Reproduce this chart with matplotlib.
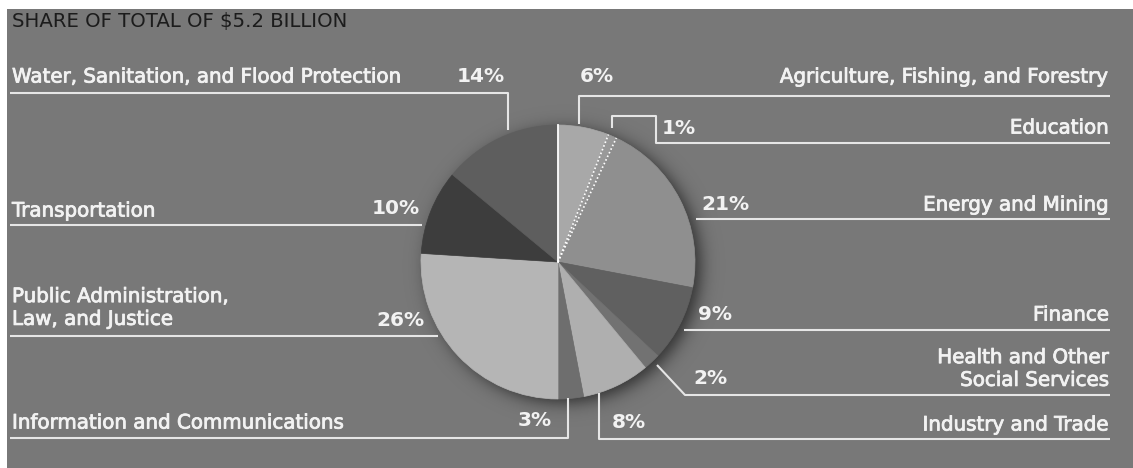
import numpy as np
import matplotlib
matplotlib.use('Agg')
import matplotlib.pyplot as plt
from matplotlib.patches import Rectangle
import matplotlib.patheffects as pe

plt.rcParams['font.family'] = ['DejaVu Sans']

title = 'SHARE OF TOTAL OF $5.2 BILLION'

# sectors clockwise from 12 o'clock
sectors = [
    'Agriculture, Fishing, and Forestry',
    'Education',
    'Energy and Mining',
    'Finance',
    'Health and Other\nSocial Services',
    'Industry and Trade',
    'Information and Communications',
    'Public Administration,\nLaw, and Justice',
    'Transportation',
    'Water, Sanitation, and Flood Protection',
]
shares = [6, 1, 21, 9, 2, 8, 3, 26, 10, 14]
greys = ['#a8a8a8', '#999999', '#8f8f8f', '#606060', '#727272',
         '#afafaf', '#6e6e6e', '#b5b5b5', '#3d3d3d', '#5e5e5e']

W, H = 1133, 468
cx, cy, rad = 558, 262, 137
bg = '#787878'
ink = '#f2f2f2'
rule = '#e6e6e6'

fig = plt.figure(figsize=(W / 100, H / 100), dpi=100, facecolor='white')
ax = fig.add_axes([0, 0, 1, 1])

ax.add_patch(Rectangle((7, 9), W - 7, H - 9, facecolor=bg, edgecolor='none', zorder=0))

# soft shadow behind the pie, heavier toward the lower right
xs = np.arange(cx - 170, cx + 180)
ys = np.arange(cy - 170, cy + 180)
X, Y = np.meshgrid(xs, ys)
d = np.hypot(X - (cx + 6), Y - (cy + 4))
shade = np.zeros(X.shape + (4,))
shade[..., 3] = 0.6 / (1.0 + np.exp((d - rad) / 5.0))
ax.imshow(shade, extent=(xs[0], xs[-1], ys[-1], ys[0]), origin='upper',
          interpolation='bilinear', zorder=1)

# y axis points down, so start at 270 and go counterclockwise in data terms
wedges, _ = ax.pie(shares, colors=greys, startangle=270, counterclock=True,
                   center=(cx, cy), radius=rad, frame=True)
for w in wedges:
    w.set_edgecolor(w.get_facecolor())
    w.set_linewidth(0.5)
    w.set_zorder(2)

cum = np.cumsum([0] + shares)
def rim(pct):
    a = np.deg2rad(270 + pct * 3.6)
    return cx + rad * np.cos(a), cy + rad * np.sin(a)

x0, y0 = rim(0)
ax.plot([cx, x0], [cy, y0], color='white', lw=1.3, zorder=3)
for k in (1, 2):
    xe, ye = rim(cum[k])
    ax.plot([cx, xe], [cy, ye], color='white', lw=1.2, ls=(0, (1, 1.4)), zorder=3)

# leader lines
leaders = [
    [(10, 93), (508, 93), (508, 130)],
    [(10, 225), (422, 225)],
    [(10, 336), (438, 336)],
    [(10, 438), (568, 438), (568, 398)],
    [(1110, 96), (579, 96), (579, 124)],
    [(612, 128), (612, 116), (656, 116), (656, 143), (1110, 143)],
    [(696, 219), (1110, 219)],
    [(684, 330), (1110, 330)],
    [(657, 365), (685, 395), (1110, 395)],
    [(599, 393), (599, 439), (1110, 439)],
]
for pts in leaders:
    px, py = zip(*pts)
    ax.plot(px, py, color=rule, lw=1.5, solid_capstyle='butt', zorder=4)

lab_fs = 14.3
pct_fs = 14.5
heavy = [pe.withStroke(linewidth=0.6, foreground=ink)]

# left side: name at the margin, share near the pie
left = {9: (77, 505, 77), 8: (211, 420, 209), 7: (308, 425, 320), 6: (423, 552, 421)}
for i, (ly, px_, py_) in left.items():
    ax.text(12, ly, sectors[i], ha='left', va='center', color=ink,
            fontsize=lab_fs, linespacing=1.25, path_effects=heavy)
    ax.text(px_, py_, '{:d}%'.format(shares[i]), ha='right', va='center',
            color=ink, fontsize=pct_fs, fontweight='bold')

# right side: share near the pie, name at the margin
right = {0: (77, 580, 77), 1: (128, 662, 128), 2: (205, 701, 205),
         3: (315, 698, 314), 4: (369, 693, 378), 5: (425, 612, 423)}
for i, (ly, px_, py_) in right.items():
    ax.text(1109, ly, sectors[i], ha='right', va='center', color=ink,
            fontsize=lab_fs, linespacing=1.25, multialignment='right',
            path_effects=heavy)
    ax.text(px_, py_, '{:d}%'.format(shares[i]), ha='left', va='center',
            color=ink, fontsize=pct_fs, fontweight='bold')

ax.text(12, 21, title, ha='left', va='center', color='#1c1c1c', fontsize=14.2)

ax.set_xlim(0, W)
ax.set_ylim(H, 0)
ax.set_aspect('auto')
ax.axis('off')

fig.savefig('out.png', dpi=100, facecolor='white')
